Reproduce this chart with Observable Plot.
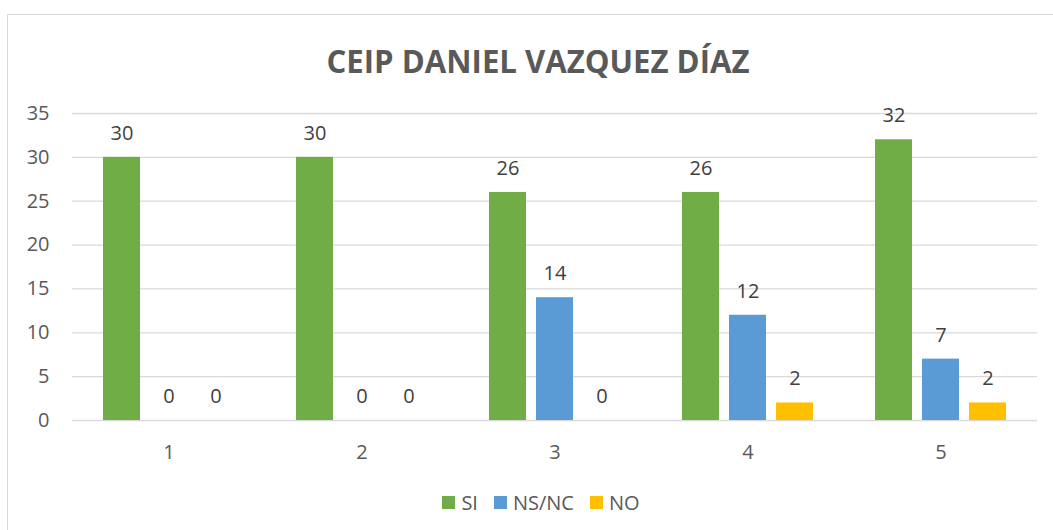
<!DOCTYPE html>
<html>
<head>
<meta charset="utf-8">
<script src="https://cdn.jsdelivr.net/npm/d3@7"></script>
<script src="https://cdn.jsdelivr.net/npm/@observablehq/plot@0.6"></script>
<style>
  html, body { margin: 0; padding: 0; background: #fff; }
  #wrap { position: relative; width: 1053px; height: 530px; overflow: hidden; font-family: "Open Sans", sans-serif; }
  #frame { position: absolute; left: 7px; top: 14px; right: -5px; bottom: -5px; border-top: 1.5px solid #d9d9d9; border-left: 1.5px solid #d9d9d9; }
  #title { position: absolute; left: 0; top: 0; }
  #chart { position: absolute; left: 0; top: 90px; }
  #legend { position: absolute; top: 489px; left: 0; width: 1082px; display: flex; justify-content: center; align-items: center; font-size: 20px; color: #595959; }
  .item { display: flex; align-items: center; margin: 0 8px; }
  .sw { width: 13px; height: 13px; margin-right: 6px; }
</style>
</head>
<body>
<div id="wrap">
  <div id="frame"></div>
  <svg id="title" width="1053" height="90">
    <text x="538" y="73" text-anchor="middle" font-family="Open Sans, sans-serif" font-weight="bold" font-size="33" fill="#595959" textLength="423" lengthAdjust="spacingAndGlyphs">CEIP DANIEL VAZQUEZ DÍAZ</text>
  </svg>
  <div id="chart"></div>
  <div id="legend"></div>
</div>
<script>
const categories = ["1", "2", "3", "4", "5"];
const series = ["SI", "NS/NC", "NO"];
const colors = ["#70ad47", "#5b9bd5", "#ffc000"];
const SI = [30, 30, 26, 26, 32];
const NSNC = [0, 0, 14, 12, 7];
const NO = [0, 0, 0, 2, 2];
const yTicks = [0, 5, 10, 15, 20, 25, 30, 35];

const values = [SI, NSNC, NO];
const data = [];
categories.forEach((c, i) => {
  series.forEach((s, j) => data.push({cat: c, series: s, value: values[j][i]}));
});

const chart = Plot.plot({
  width: 1053,
  height: 380,
  marginLeft: 72,
  marginRight: 16,
  marginTop: 23,
  marginBottom: 50,
  style: {fontFamily: "Open Sans, sans-serif", fontSize: "20px", color: "#595959", background: "transparent"},
  fx: {domain: categories, padding: 0, label: null},
  x: {domain: series, paddingInner: 0.21, paddingOuter: 0.62, axis: null},
  y: {domain: [0, 35], label: null},
  color: {domain: series, range: colors},
  marks: [
    Plot.ruleY(yTicks, {stroke: "#d9d9d9", strokeWidth: 1.3}),
    Plot.axisY(yTicks, {tickSize: 0, tickPadding: 23, fontSize: 20, fill: "#595959", label: null}),
    Plot.axisFx({anchor: "bottom", tickSize: 0, tickPadding: 24, fontSize: 20, fill: "#595959", label: null}),
    Plot.barY(data, {fx: "cat", x: "series", y: "value", fill: "series"}),
    Plot.text(data, {fx: "cat", x: "series", y: "value", text: d => String(d.value), dy: -24, fill: "#404040", fontSize: 20})
  ]
});
document.getElementById("chart").appendChild(chart);

const legend = document.getElementById("legend");
series.forEach((s, j) => {
  const it = document.createElement("div");
  it.className = "item";
  const sw = document.createElement("div");
  sw.className = "sw";
  sw.style.background = colors[j];
  const t = document.createElement("span");
  t.textContent = s;
  it.appendChild(sw);
  it.appendChild(t);
  legend.appendChild(it);
});
</script>
</body>
</html>
